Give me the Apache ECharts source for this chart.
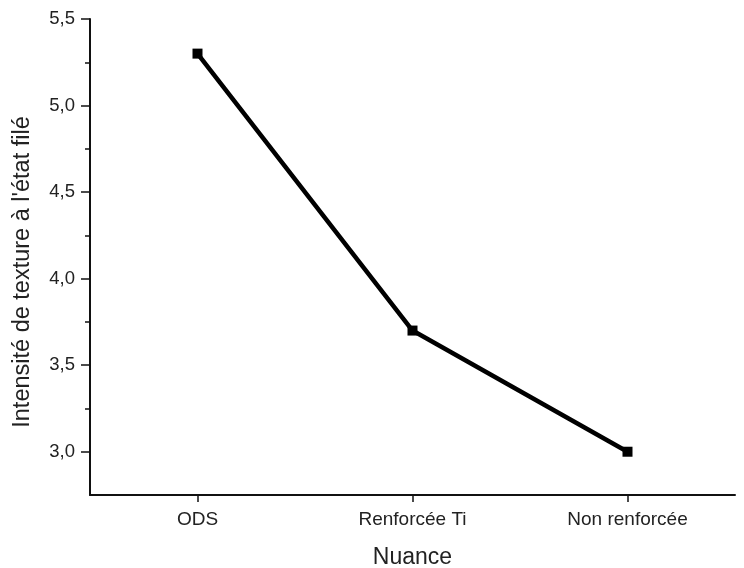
<!DOCTYPE html>
<html>
<head>
<meta charset="utf-8">
<script src="https://cdn.jsdelivr.net/npm/echarts@6/dist/echarts.min.js"></script>
<style>
  html, body { margin: 0; padding: 0; background: #fff; }
  #chart { width: 744px; height: 568px; }
</style>
</head>
<body>
<div id="chart"></div>
<script>
// data
const categories = ['ODS', 'Renforcée Ti', 'Non renforcée'];
const intensite = [5.3, 3.7, 3.0];
const majorTicks = [3.0, 3.5, 4.0, 4.5, 5.0, 5.5];
const minorTicks = [3.25, 3.75, 4.25, 4.75, 5.25];

const font = '"Liberation Sans", Arial, sans-serif';
const chart = echarts.init(document.getElementById('chart'));

const option = {
  backgroundColor: '#fff',
  animation: false,
  grid: { left: 90, right: 9, top: 19, bottom: 73, outerBoundsMode: 'none' },
  xAxis: {
    type: 'category',
    data: categories,
    boundaryGap: true,
    name: 'Nuance',
    nameLocation: 'middle',
    nameGap: 51,
    nameTextStyle: { fontFamily: font, fontSize: 23, color: '#222' },
    axisLine: { lineStyle: { color: '#111', width: 2 } },
    axisTick: { show: true, alignWithLabel: true, length: 7, lineStyle: { color: '#111', width: 1.5 } },
    axisLabel: { fontFamily: font, fontSize: 19, color: '#222', margin: 15 },
    splitLine: { show: false }
  },
  yAxis: [{
    type: 'value',
    min: 2.75,
    max: 5.5,
    name: 'Intensité de texture à l\'état filé',
    nameLocation: 'middle',
    nameGap: 55,
    nameTextStyle: { fontFamily: font, fontSize: 23.5, color: '#222', padding: [0, 30, 0, 0] },
    axisLine: { show: true, lineStyle: { color: '#111', width: 2 } },
    axisTick: { show: true, length: 9, customValues: majorTicks, lineStyle: { color: '#111', width: 1.5 } },
    axisLabel: {
      fontFamily: font, fontSize: 18.5, color: '#222', margin: 15,
      customValues: majorTicks,
      formatter: v => v.toFixed(1).replace('.', ',')
    },
    splitLine: { show: false }
  }, {
    type: 'value',
    position: 'left',
    min: 2.75,
    max: 5.5,
    axisLine: { show: false },
    axisTick: { show: true, length: 5, customValues: minorTicks, lineStyle: { color: '#111', width: 1.5 } },
    axisLabel: { show: false },
    splitLine: { show: false }
  }],
  series: [{
    type: 'line',
    data: intensite,
    yAxisIndex: 0,
    symbol: 'rect',
    symbolSize: 10,
    lineStyle: { color: '#000', width: 4.5 },
    itemStyle: { color: '#000' }
  }]
};

chart.setOption(option);
</script>
</body>
</html>
